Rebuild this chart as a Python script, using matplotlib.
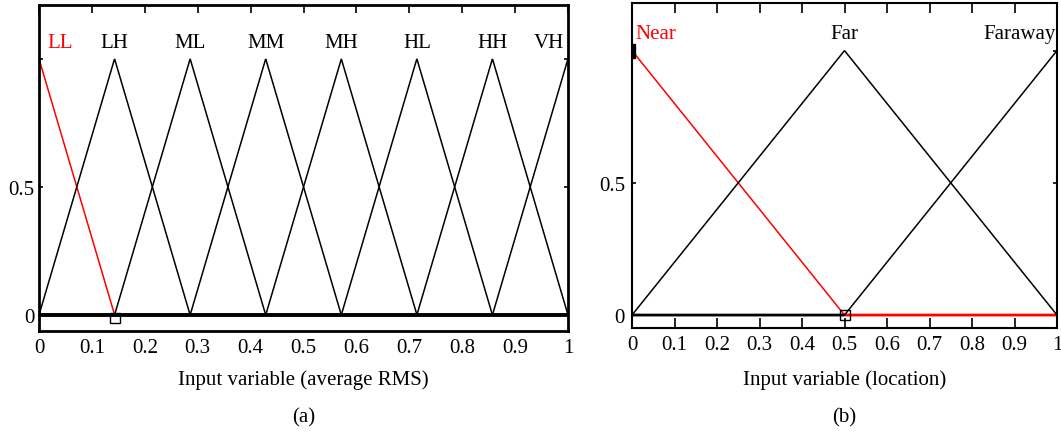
import numpy as np
import matplotlib
matplotlib.use("Agg")
import matplotlib.pyplot as plt

plt.rcParams['font.family'] = ['Liberation Serif', 'DejaVu Serif']
plt.rcParams['font.size'] = 15

# ---- data ----
# Panel (a): triangular membership functions on the average-RMS input
rms_names = ["LL", "LH", "ML", "MM", "MH", "HL", "HH", "VH"]
rms_peaks = [0, 1/7, 2/7, 3/7, 4/7, 5/7, 6/7, 1]
rms_halfwidth = 1/7
rms_colors = ["red", "black", "black", "black", "black", "black", "black", "black"]
rms_marker = (1/7, -0.012)

# Panel (b): location input
loc_names = ["Near", "Far", "Faraway"]
loc_peaks = [0, 0.5, 1]
loc_halfwidth = 0.5
loc_colors = ["red", "black", "black"]
loc_marker_open = (0.5, 0.0)
loc_marker_filled = (0.0, 1.0)

xticks = [0, 0.1, 0.2, 0.3, 0.4, 0.5, 0.6, 0.7, 0.8, 0.9, 1]
xticklabels = ["0", "0.1", "0.2", "0.3", "0.4", "0.5", "0.6", "0.7", "0.8", "0.9", "1"]
yticks = [0, 0.5, 1]
yticklabels = ["0", "0.5", ""]

FS = 15


def trimf(x, a, b, c):
    y = np.zeros_like(x)
    left = (x >= a) & (x <= b)
    right = (x >= b) & (x <= c)
    if b > a:
        y[left] = (x[left] - a) / (b - a)
    if c > b:
        y[right] = (c - x[right]) / (c - b)
    y[x == b] = 1.0
    return np.clip(y, 0, 1)


W, H = 1061, 435
fig = plt.figure(figsize=(W / 100, H / 100), dpi=100)


def px_axes(x0, y0, x1, y1):
    return fig.add_axes([x0 / W, 1 - y1 / H, (x1 - x0) / W, (y1 - y0) / H])


def draw_panel(ax, names, peaks, hw, colors, label_y, label_pos):
    xs = np.linspace(0, 1, 2001)
    for name, p, col, (lx, ha) in zip(names, peaks, colors, label_pos):
        y = trimf(xs, p - hw, p, p + hw)
        ax.plot(xs, y, color=col, lw=1.1, solid_joinstyle='miter', clip_on=False)
        yz = np.where(y == 0, 0.0, np.nan)
        ax.plot(xs, yz, color=col, lw=2.0, solid_capstyle='butt')
        ax.text(lx, label_y, name, color=col, ha=ha, va='center', fontsize=FS)


# ---- panel (a) ----
axa = px_axes(39, 6, 568, 332)
axa.set_xlim(0, 1)
axa.set_ylim(-0.0625, 1.21)
label_pos_a = [(0.015, 'left')] + [(p, 'center') for p in rms_peaks[1:-1]] + [(0.993, 'right')]
draw_panel(axa, rms_names, rms_peaks, rms_halfwidth, rms_colors, 1.065, label_pos_a)
axa.plot([rms_marker[0]], [rms_marker[1]], marker='s', ms=7, mfc='none', mec='black', mew=1.0, ls='none')
for s in axa.spines.values():
    s.set_linewidth(2.0)
axa.set_xticks(xticks)
axa.set_xticklabels(xticklabels)
axa.set_yticks(yticks)
axa.set_yticklabels(yticklabels)
axa.tick_params(axis='x', which='both', direction='in', top=True, bottom=False, length=6, width=1.2, pad=5, labelsize=FS)
axa.tick_params(axis='y', which='both', direction='in', left=True, right=True, length=3, width=1.2, pad=3, labelsize=FS)
axa.set_xlabel("Input variable (average RMS)", fontsize=FS, labelpad=9)
fig.text(303.5 / W, 1 - 418 / H, "(a)", ha='center', va='center', fontsize=FS)

# ---- panel (b) ----
axb = px_axes(632, 4, 1057, 329)
axb.set_xlim(0, 1)
axb.set_ylim(-0.049, 1.18)
label_pos_b = [(0.008, 'left'), (0.5, 'center'), (0.998, 'right')]
draw_panel(axb, loc_names, loc_peaks, loc_halfwidth, loc_colors, 1.065, label_pos_b)
axb.plot([loc_marker_open[0]], [loc_marker_open[1]], marker='s', ms=7, mfc='none', mec='black', mew=1.0, ls='none')
bar = [(-0.45, -1), (0.45, -1), (0.45, 1), (-0.45, 1), (-0.45, -1)]
axb.plot([loc_marker_filled[0]], [loc_marker_filled[1]], marker=bar, ms=10, mfc='black', mec='black', ls='none', clip_on=True)
for s in axb.spines.values():
    s.set_linewidth(1.5)
axb.set_xticks(xticks)
axb.set_xticklabels(xticklabels)
axb.set_yticks(yticks)
axb.set_yticklabels(yticklabels)
axb.tick_params(axis='x', which='both', direction='in', top=True, bottom=True, length=7, width=1.2, pad=5, labelsize=FS)
axb.tick_params(axis='y', which='both', direction='in', left=True, right=True, length=3, width=1.2, pad=5, labelsize=FS)
axb.set_xlabel("Input variable (location)", fontsize=FS, labelpad=11)
fig.text(844.5 / W, 1 - 418 / H, "(b)", ha='center', va='center', fontsize=FS)

fig.savefig("out.png", dpi=100)
